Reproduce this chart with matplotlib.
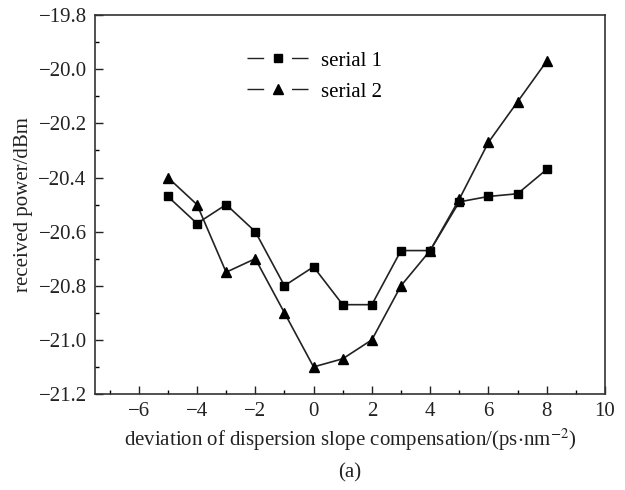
import matplotlib
matplotlib.use("Agg")
import matplotlib.pyplot as plt
from matplotlib.ticker import MultipleLocator, FixedLocator
from matplotlib.lines import Line2D

plt.rcParams['font.family'] = ['Liberation Serif', 'DejaVu Serif']
plt.rcParams['mathtext.fontset'] = 'stix'

x = [-5, -4, -3, -2, -1, 0, 1, 2, 3, 4, 5, 6, 7, 8]
serial1 = [-20.47, -20.57, -20.50, -20.60, -20.80, -20.73, -20.87, -20.87,
           -20.67, -20.67, -20.49, -20.47, -20.46, -20.37]
serial2 = [-20.40, -20.50, -20.75, -20.70, -20.90, -21.10, -21.07, -21.00,
           -20.80, -20.67, -20.48, -20.27, -20.12, -19.97]
xticks = [-6, -4, -2, 0, 2, 4, 6, 8, 10]
yticks = [-21.2, -21.0, -20.8, -20.6, -20.4, -20.2, -20.0, -19.8]
labels = ['serial 1', 'serial 2']

fs = 15
fig = plt.figure(figsize=(6.25, 4.9), dpi=100)
ax = fig.add_axes([0.152, 0.196, 0.816, 0.773])
ax.plot(x, serial1, color='#222222', lw=1.2, marker='s', ms=6, mfc='black', mec='black')
ax.plot(x, serial2, color='#222222', lw=1.2, marker='^', ms=7, mfc='black', mec='black')

ax.set_xlim(-7.5, 10)
ax.set_ylim(-21.2, -19.8)
ax.xaxis.set_major_locator(FixedLocator(xticks))
ax.yaxis.set_major_locator(FixedLocator(yticks))
ax.xaxis.set_minor_locator(MultipleLocator(1))
ax.yaxis.set_minor_locator(MultipleLocator(0.1))
ax.set_xticklabels([f"\u2212{abs(v)}" if v < 0 else str(v) for v in xticks])
ax.set_yticklabels([f"\u2212{abs(v):.1f}" for v in yticks])
ax.tick_params(which='major', direction='in', length=6, width=1, labelsize=fs, colors='#222222', pad=6)
ax.tick_params(which='minor', direction='in', length=3, width=1)
for s in ax.spines.values():
    s.set_linewidth(1.2)
    s.set_color('#333333')

ax.set_xlabel(r"deviation of dispersion slope compensation/(ps$\cdot$nm$^{-2}$)", fontsize=fs, color='#222222', labelpad=4)
ax.set_ylabel("received power/dBm", fontsize=fs, color='#222222', labelpad=4)

dash = (0, (12, 20, 12, 100))
h1 = (Line2D([], [], color='#222222', lw=1, linestyle=dash),
      Line2D([], [], ls='none', marker='s', ms=5.5, mfc='black', mec='black'))
h2 = (Line2D([], [], color='#222222', lw=1, linestyle=dash),
      Line2D([], [], ls='none', marker='^', ms=6.5, mfc='black', mec='black'))
leg = ax.legend([h1, h2], labels, loc='upper left', bbox_to_anchor=(247 / 625, 1 - 51 / 490),
                bbox_transform=fig.transFigure, frameon=False, fontsize=fs,
                handlelength=2.95, handletextpad=0.6, labelspacing=0.55, borderpad=0, borderaxespad=0)

fig.text(0.56, 0.035, "(a)", fontsize=fs, ha='center', va='center', color='#222222')

fig.savefig("out.png", dpi=100)
